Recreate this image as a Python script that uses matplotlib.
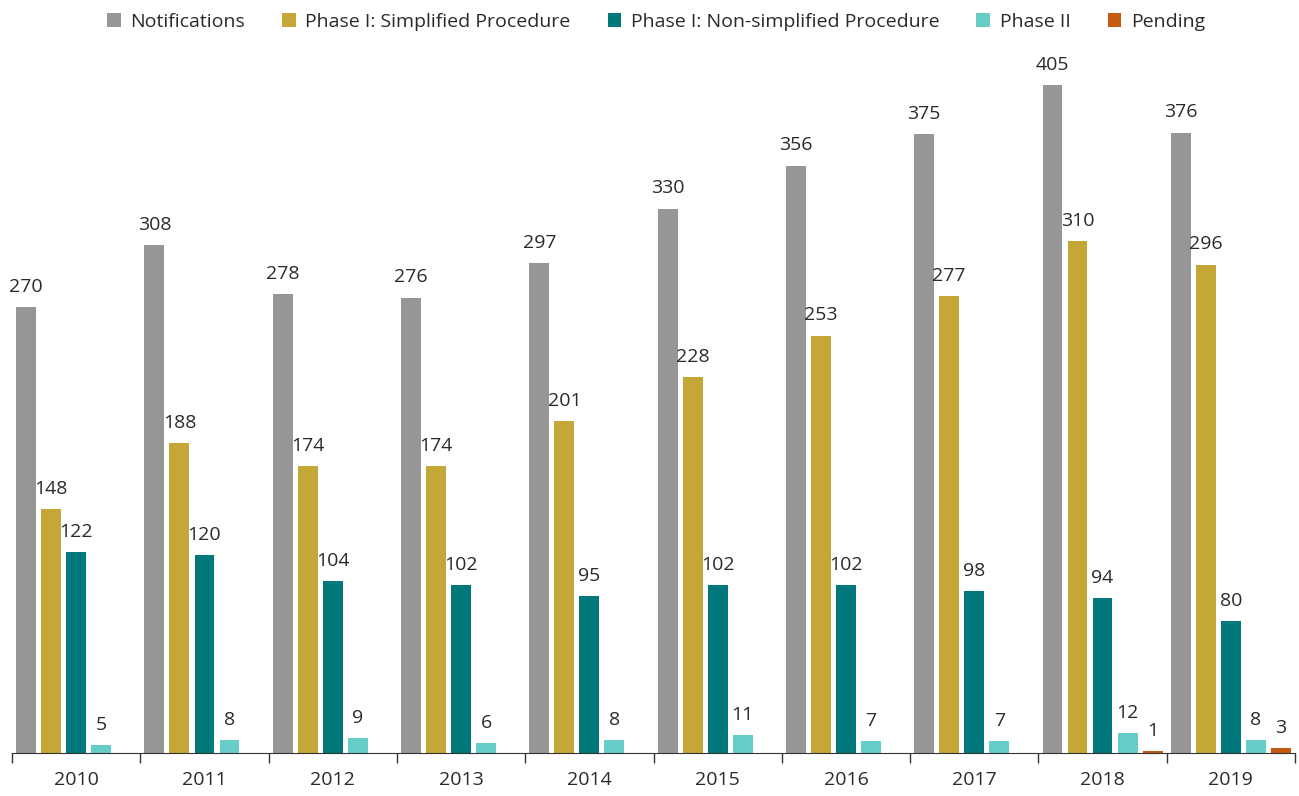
import matplotlib
matplotlib.use("Agg")
import matplotlib.pyplot as plt
import numpy as np

years = ["2010", "2011", "2012", "2013", "2014", "2015", "2016", "2017", "2018", "2019"]
notifications = [270, 308, 278, 276, 297, 330, 356, 375, 405, 376]
simplified = [148, 188, 174, 174, 201, 228, 253, 277, 310, 296]
non_simplified = [122, 120, 104, 102, 95, 102, 102, 98, 94, 80]
phase2 = [5, 8, 9, 6, 8, 11, 7, 7, 12, 8]
pending = [0, 0, 0, 0, 0, 0, 0, 0, 1, 3]

series_names = ["Notifications", "Phase I: Simplified Procedure",
                "Phase I: Non-simplified Procedure", "Phase II", "Pending"]
series = [notifications, simplified, non_simplified, phase2, pending]
colors = ["#969696", "#C5A737", "#00787C", "#66CDC8", "#C55A11"]

plt.rcParams["font.family"] = ["Open Sans", "DejaVu Sans"]
txt_color = "#2a2a2a"
fs = 14

fig = plt.figure(figsize=(12.99, 7.96), dpi=100)
ax = fig.add_axes([12 / 1299, 43 / 796, 1283 / 1299, (753 - 60) / 796])

x = np.arange(len(years))
slot = 0.195
width = 0.155
for k, (name, vals, col) in enumerate(zip(series_names, series, colors)):
    pos = x + (k - 2) * slot
    ax.bar(pos, vals, width=width, color=col, label=name, zorder=2)
    for p, v in zip(pos, vals):
        if v > 0:
            ax.annotate(str(v), (p, v), xytext=(0, 8), textcoords="offset points",
                        ha="center", va="bottom", fontsize=fs, color=txt_color)

ax.set_xlim(-0.5, len(years) - 0.5)
ax.set_ylim(0, 420)
ax.set_yticks([])
for s in ["top", "right", "left"]:
    ax.spines[s].set_visible(False)
ax.spines["bottom"].set_color("#333333")
ax.set_xticks(x)
ax.set_xticklabels(years, fontsize=fs, color=txt_color)
ax.tick_params(axis="x", which="major", length=0, pad=13)
ax.set_xticks(np.arange(len(years) + 1) - 0.5, minor=True)
ax.tick_params(axis="x", which="minor", length=7, width=1, color="#333333")

fig.legend(loc="center", bbox_to_anchor=(656 / 1299, 1 - 22 / 796), ncol=5,
           frameon=False, fontsize=fs, handlelength=0.7, handleheight=0.7,
           columnspacing=1.9, handletextpad=0.5, labelcolor=txt_color)

fig.savefig("out.png", dpi=100, facecolor="white")
